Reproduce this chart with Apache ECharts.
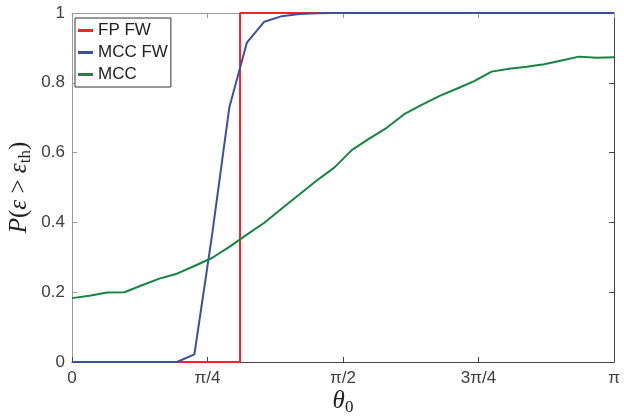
<!DOCTYPE html>
<html>
<head>
<meta charset="utf-8">
<script src="https://cdn.jsdelivr.net/npm/echarts@6/dist/echarts.min.js"></script>
<style>
  html, body { margin: 0; padding: 0; background: #fff; }
  #chart { width: 624px; height: 419px; }
</style>
</head>
<body>
<div id="chart"></div>
<script>
// theta grid (rad), 32 samples from 0 to pi
const theta = [0, 0.101342, 0.202683, 0.304025, 0.405367, 0.506708, 0.60805, 0.709392,
  0.810734, 0.912075, 1.013417, 1.114759, 1.2161, 1.317442, 1.418784, 1.520125,
  1.621467, 1.722809, 1.82415, 1.925492, 2.026834, 2.128175, 2.229517, 2.330859,
  2.4322, 2.533542, 2.634884, 2.736225, 2.837567, 2.938909, 3.04025, 3.14159]

// FP FW is a step
const fpTheta = [0, 0.974, 0.974, 3.14159]
const fpP = [0, 0, 1, 1]

const mccFwP = [0, 0, 0, 0, 0, 0, 0, 0.022, 0.36, 0.73, 0.915, 0.975, 0.991, 0.997, 0.999, 1,
  1, 1, 1, 1, 1, 1, 1, 1, 1, 1, 1, 1, 1, 1, 1, 1]

const mccP = [0.183, 0.19, 0.199, 0.2, 0.22, 0.239, 0.253, 0.275, 0.298, 0.33, 0.365, 0.399,
  0.44, 0.48, 0.52, 0.557, 0.607, 0.64, 0.671, 0.71, 0.737, 0.762, 0.783, 0.805,
  0.832, 0.84, 0.846, 0.853, 0.864, 0.875, 0.872, 0.873]

const xTickLabels = ['0', 'π/4', 'π/2', '3π/4', 'π']
const yTickLabels = ['0', '0.2', '0.4', '0.6', '0.8', '1']

const zip = (xs, ys) => xs.map((x, i) => [x, ys[i]])

const chart = echarts.init(document.getElementById('chart'))

const tickFont = {
  fontFamily: 'Liberation Sans, Arial, sans-serif',
  fontSize: 17,
  color: '#404040'
}
const serif = 'Liberation Serif, DejaVu Serif, serif'

// latex-ish rich styles for axis names
const mathRich = {
  i: { fontFamily: serif, fontStyle: 'italic', fontSize: 25, lineHeight: 30, verticalAlign: 'middle', color: '#222' },
  r: { fontFamily: serif, fontSize: 25, lineHeight: 30, verticalAlign: 'middle', color: '#222' },
  s: { fontFamily: serif, fontSize: 17, lineHeight: 30, verticalAlign: 'bottom', color: '#222' }
}

function xAxisCfg(pos) {
  const bottom = pos === 'bottom'
  return {
    type: 'value',
    position: pos,
    min: 0,
    max: Math.PI,
    interval: Math.PI / 4,
    axisLine: { show: true, onZero: false, lineStyle: { color: bottom ? '#444' : '#999', width: 1 } },
    axisTick: { show: true, inside: true, length: 5, lineStyle: { color: bottom ? '#444' : '#999' } },
    axisLabel: {
      show: bottom,
      margin: 8,
      ...tickFont,
      formatter: v => xTickLabels[Math.round(v / (Math.PI / 4))]
    },
    splitLine: { show: false },
    name: bottom ? '{i|θ}{s|0}' : '',
    nameLocation: 'middle',
    nameGap: 24,
    nameMoveOverlap: false,
    nameTextStyle: { rich: mathRich }
  }
}

function yAxisCfg(pos) {
  const left = pos === 'left'
  return {
    type: 'value',
    position: pos,
    min: 0,
    max: 1,
    interval: 0.2,
    axisLine: { show: true, onZero: false, lineStyle: { color: left ? '#999' : '#444', width: 1 } },
    axisTick: { show: true, inside: true, length: 5, lineStyle: { color: left ? '#999' : '#444' } },
    axisLabel: {
      show: left,
      margin: 7,
      ...tickFont,
      formatter: v => yTickLabels[Math.round(v / 0.2)]
    },
    splitLine: { show: false },
    name: left ? '{i|P}{r|(}{i|ε}{r| > }{i|ε}{s|th}{r|)}' : '',
    nameLocation: 'middle',
    nameRotate: 90,
    nameGap: 38,
    nameMoveOverlap: false,
    nameTextStyle: { rich: mathRich }
  }
}

chart.setOption({
  animation: false,
  grid: { left: 72, right: 10, top: 13, bottom: 57, containLabel: false, outerBoundsMode: 'none' },
  legend: {
    left: 75,
    top: 18,
    orient: 'vertical',
    padding: [4, 3, 4, 3],
    itemGap: 5,
    itemWidth: 15,
    itemHeight: 3,
    icon: 'rect',
    borderColor: '#333',
    borderWidth: 1,
    backgroundColor: '#fff',
    textStyle: {
      fontFamily: 'Liberation Sans, Arial, sans-serif',
      fontSize: 17,
      lineHeight: 17,
      color: '#222'
    },
    data: ['FP FW', 'MCC FW', 'MCC']
  },
  xAxis: [xAxisCfg('bottom'), xAxisCfg('top')],
  yAxis: [yAxisCfg('left'), yAxisCfg('right')],
  series: [{
    name: 'FP FW',
    type: 'line',
    data: zip(fpTheta, fpP),
    showSymbol: false,
    symbol: 'none',
    clip: false,
    lineStyle: { color: '#f52525', width: 2 },
    itemStyle: { color: '#f52525' }
  }, {
    name: 'MCC FW',
    type: 'line',
    data: zip(theta, mccFwP),
    showSymbol: false,
    symbol: 'none',
    clip: false,
    lineStyle: { color: '#3b50a4', width: 2 },
    itemStyle: { color: '#3b50a4' }
  }, {
    name: 'MCC',
    type: 'line',
    data: zip(theta, mccP),
    showSymbol: false,
    symbol: 'none',
    clip: false,
    lineStyle: { color: '#15843f', width: 2 },
    itemStyle: { color: '#15843f' }
  }]
})
</script>
</body>
</html>
